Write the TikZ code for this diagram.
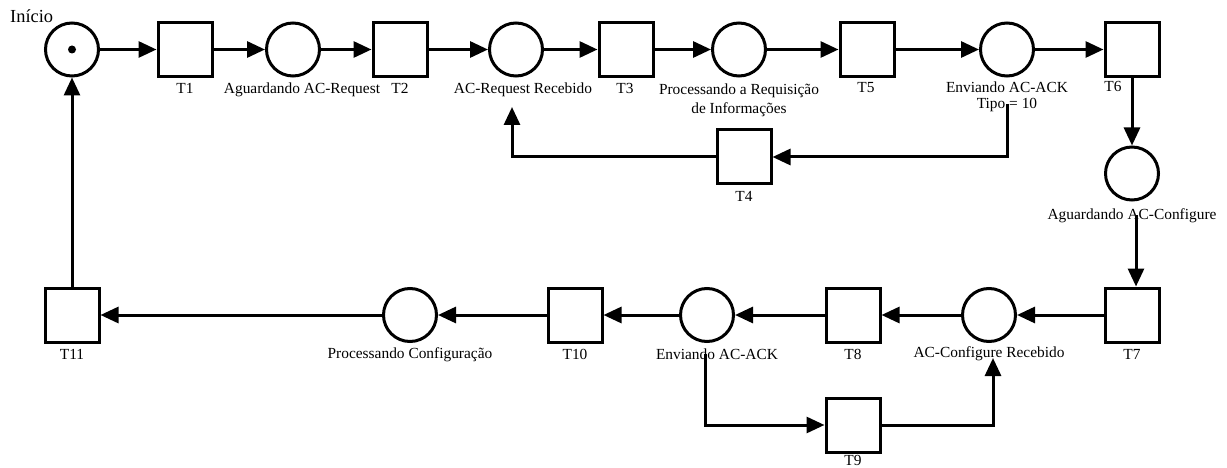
\documentclass[tikz,border=0pt]{standalone}
\usepackage{fontspec}
\setmainfont{Liberation Serif}
\usetikzlibrary{arrows.meta}
\begin{document}
\begin{tikzpicture}[x=1pt,y=-1pt,
  place/.style={circle,draw,line width=3pt,minimum size=53pt,inner sep=0pt},
  trans/.style={rectangle,draw,line width=3pt,minimum size=54pt,inner sep=0pt},
  token/.style={circle,fill,inner sep=0pt,minimum size=8pt},
  lbl/.style={inner sep=0pt,anchor=base,font=\fontsize{15.4}{19}\selectfont},
  lbltwo/.style={inner sep=0pt,anchor=north,align=center,font=\fontsize{15.4}{19}\selectfont},
  arc/.style={line width=3pt,-{Triangle[length=18pt,width=16pt]}}]
\useasboundingbox (0,0) rectangle (1227,468);

% upper row
\node[place] (P0) at (72,49.5) {};
\node[token] (tok) at (P0.center) {};
\node[inner sep=0pt,anchor=base west,font=\fontsize{18.4}{22}\selectfont] (lP0) at (10,23) {Início};
\node[trans] (T1) at (185,49.5) {};
\node[lbl] (lT1) at (185,94) {T1};
\node[place] (P1) at (293,49.5) {};
\node[lbl] (lP1) at (302,94) {Aguardando AC-Request};
\node[trans] (T2) at (400,49.5) {};
\node[lbl] (lT2) at (400,94) {T2};
\node[place] (P2) at (516,49.5) {};
\node[lbl] (lP2) at (523,94) {AC-Request Recebido};
\node[trans] (T3) at (626,49.5) {};
\node[lbl] (lT3) at (625,94) {T3};
\node[place] (P3) at (739,49.5) {};
\node[lbltwo] (lP3) at (739,84) {Processando a Requisição\\de Informações};
\node[trans] (T5) at (867,49.5) {};
\node[lbl] (lT5) at (866,93) {T5};
\node[place] (P4) at (1007,49.5) {};
\node[lbltwo] (lP4) at (1007,82) {Enviando AC-ACK\\[-3.5pt]Tipo = 10};
\node[trans] (T6) at (1132,49.5) {};
\node[lbl] (lT6) at (1113,92) {T6};

% loop back through T4
\node[trans] (T4) at (744,157) {};
\node[lbl] (lT4) at (744,201) {T4};

% right column
\node[place] (P5) at (1132,173.5) {};
\node[lbl] (lP5) at (1132,219) {Aguardando AC-Configure};

% lower row
\node[trans] (T7) at (1132,315) {};
\node[lbl] (lT7) at (1132,359) {T7};
\node[place] (P6) at (989,315) {};
\node[lbl] (lP6) at (989,357) {AC-Configure Recebido};
\node[trans] (T8) at (853,315) {};
\node[lbl] (lT8) at (853,359) {T8};
\node[place] (P7) at (707,315) {};
\node[lbl] (lP7) at (717,359) {Enviando AC-ACK};
\node[trans] (T10) at (575,315) {};
\node[lbl] (lT10) at (575,359) {T10};
\node[place] (P8) at (410,315) {};
\node[lbl] (lP8) at (410,358) {Processando Configuração};
\node[trans] (T11) at (72,315) {};
\node[lbl] (lT11) at (72,359) {T11};
\node[trans] (T9) at (853,425) {};
\node[lbl] (lT9) at (853,465) {T9};

% arcs of the net
\draw[arc] (P0) -- (T1);
\draw[arc] (T1) -- (P1);
\draw[arc] (P1) -- (T2);
\draw[arc] (T2) -- (P2);
\draw[arc] (P2) -- (T3);
\draw[arc] (T3) -- (P3);
\draw[arc] (P3) -- (T5);
\draw[arc] (T5) -- (P4);
\draw[arc] (P4) -- (T6);
\draw[arc] ([yshift=-7pt]lP4.center) |- (T4);
\draw[arc] (T4) -| ([xshift=-11pt,yshift=-13pt]lP2.base);
\draw[arc] (T6) -- (P5);
\draw[arc] ([xshift=4pt]lP5.center) -- ([xshift=4pt]T7.north);
\draw[arc] (T7) -- (P6);
\draw[arc] (P6) -- (T8);
\draw[arc] (T8) -- (P7);
\draw[arc] (P7) -- (T10);
\draw[arc] (T10) -- (P8);
\draw[arc] (P8) -- (T11);
\draw[arc] (T11) -- (P0);
\draw[arc] ([xshift=-12pt]lP7.center) |- (T9);
\draw[arc] (T9) -| ([xshift=4pt,yshift=-1pt]lP6.base);
\end{tikzpicture}
\end{document}
